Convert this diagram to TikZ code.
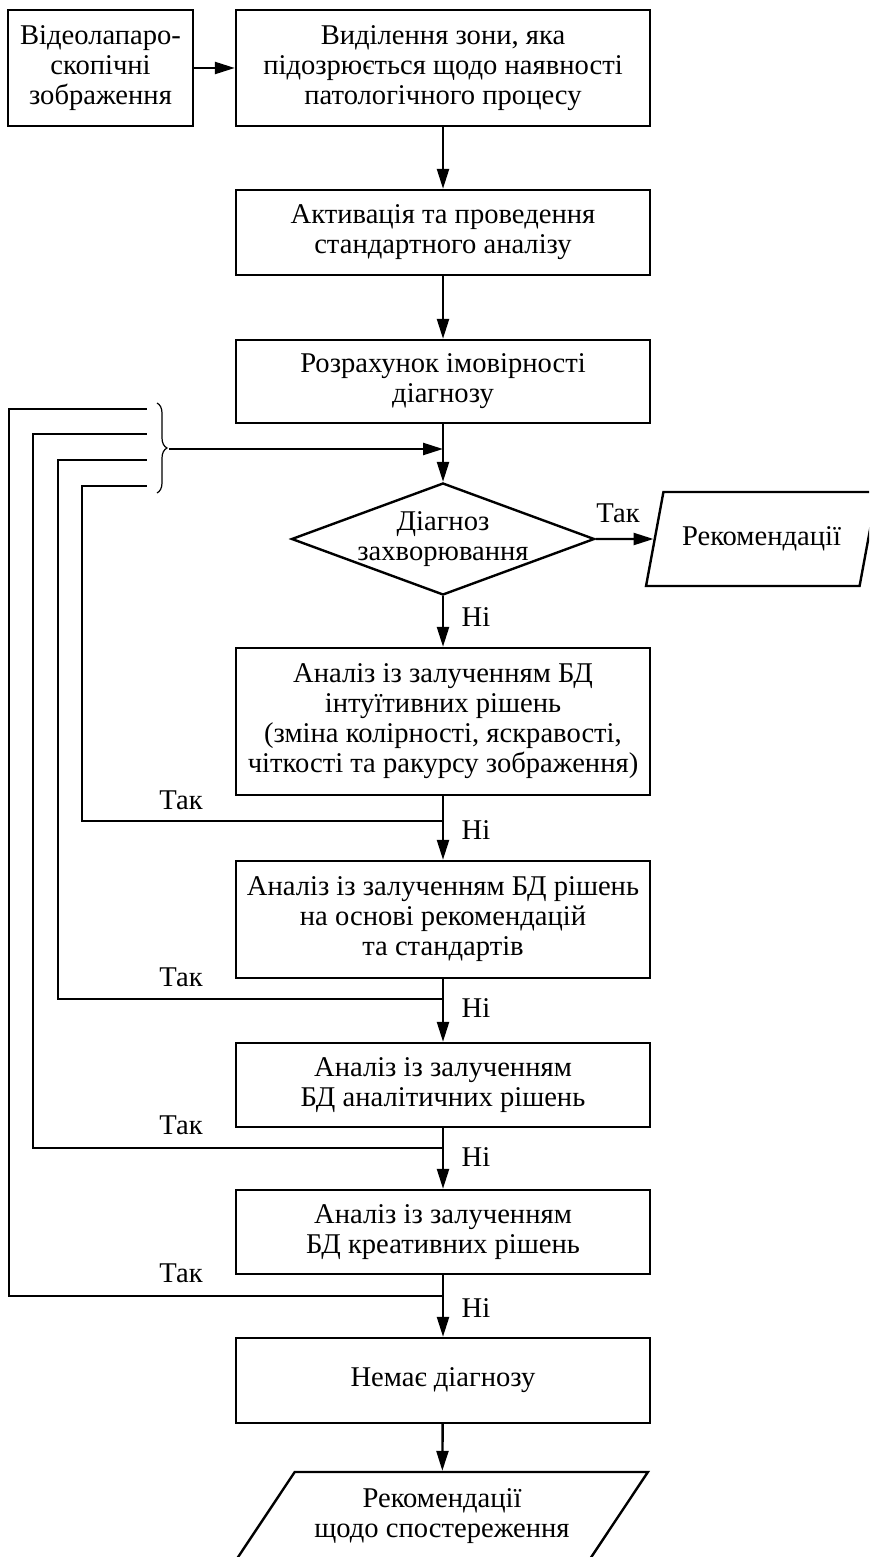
\documentclass[tikz,border=0pt]{standalone}
\usepackage{fontspec}
\setmainfont{Liberation Serif}
\usetikzlibrary{shapes.geometric, arrows.meta, decorations.pathreplacing}

\begin{document}
\begin{tikzpicture}[x=0.5pt, y=-0.5pt, line width=1.2pt,
    font=\fontsize{14.3}{15}\selectfont,
    box/.style={draw, rectangle, minimum width=207pt, align=center, inner sep=2pt},
    decision/.style={draw, diamond, aspect=2.7, inner sep=-3pt, align=center, minimum width=151.5pt, minimum height=56pt},
    io/.style={draw, trapezium, trapezium stretches=true, align=center},
    flow/.style={-{Triangle[length=10pt, width=6pt]}},
    lbl/.style={inner sep=0pt}]
  \useasboundingbox (0,0) rectangle (869,1557);
  \clip (0,0) rectangle (869,1557);
  % blocks
  \node[box, minimum width=92.5pt, minimum height=58pt] (src) at (100.5,68) {Відеолапаро-\\скопічні\\зображення};
  \node[box, minimum height=58pt] (sel) at (443,68) {Виділення зони, яка\\підозрюється щодо наявності\\патологічного процесу};
  \node[box, minimum height=42.5pt] (act) at (443,232.5) {Активація та проведення\\стандартного аналізу};
  \node[box, minimum height=41.5pt] (prob) at (443,381.5) {Розрахунок імовірності\\діагнозу};
  \node[decision] (dia) at (443,539) {Діагноз\\захворювання};
  \node[io, trapezium left angle=68, trapezium right angle=112, minimum width=115.5pt, minimum height=47pt] (rec) at (761.5,539) {Рекомендації};
  \node[box, minimum height=73.5pt] (intu) at (443,721.5) {Аналіз із залученням БД\\інтуїтивних рішень\\(зміна колірності, яскравості,\\чіткості та ракурсу зображення)};
  \node[box, minimum height=58.5pt] (norm) at (443,919.5) {Аналіз із залученням БД рішень\\на основі рекомендацій\\та стандартів};
  \node[box, minimum height=42pt] (anal) at (443,1085) {Аналіз із залученням\\БД аналітичних рішень};
  \node[box, minimum height=42pt] (crea) at (443,1232) {Аналіз із залученням\\БД креативних рішень};
  \node[box, minimum height=42.5pt] (nodiag) at (443,1380.5) {Немає діагнозу};
  \node[io, trapezium left angle=52, trapezium right angle=128, minimum width=206pt, minimum height=44pt] (obs) at (442,1516) {Рекомендації\\щодо спостереження};
  % main flow
  \draw[flow] (src) -- (sel);
  \draw[flow] (sel) -- (act);
  \draw[flow] (act) -- (prob);
  \draw[flow] (prob) -- (dia);
  \draw[flow] (dia) -- (rec);
  \draw[flow] (dia) -- (intu);
  \draw[flow] (intu) -- (norm);
  \draw[flow] (norm) -- (anal);
  \draw[flow] (anal) -- (crea);
  \draw[flow] (crea) -- (nodiag);
  \draw[flow] (nodiag) -- (obs);
  % return loops
  \coordinate (j1) at (443,821);  \coordinate (e1) at (147,486);
  \coordinate (j2) at (443,999);  \coordinate (e2) at (147,460);
  \coordinate (j3) at (443,1148); \coordinate (e3) at (147,434);
  \coordinate (j4) at (443,1296); \coordinate (e4) at (147,409);
  \draw (j1) -| (82,486) -- (e1);
  \draw (j2) -| (58,460) -- (e2);
  \draw (j3) -| (33,434) -- (e3);
  \draw (j4) -| (9,409) -- (e4);
  \coordinate (b1) at (157,403);
  \coordinate (b2) at (157,493);
  \draw[line width=0.6pt, decorate, decoration={brace, amplitude=5pt}] (b1) -- (b2);
  \coordinate (tip) at (169,449);
  \coordinate (m) at (443,449);
  \draw[flow] (tip) -- (m);
  % labels
  \node[lbl] (y0) at (618,513) {Так};
  \node[lbl] (n0) at (476,617) {Ні};
  \node[lbl] (y1) at (181,800) {Так};
  \node[lbl] (n1) at (476,830) {Ні};
  \node[lbl] (y2) at (181,977) {Так};
  \node[lbl] (n2) at (476,1008) {Ні};
  \node[lbl] (y3) at (181,1125) {Так};
  \node[lbl] (n3) at (476,1157) {Ні};
  \node[lbl] (y4) at (181,1273) {Так};
  \node[lbl] (n4) at (476,1308) {Ні};
\end{tikzpicture}
\end{document}
